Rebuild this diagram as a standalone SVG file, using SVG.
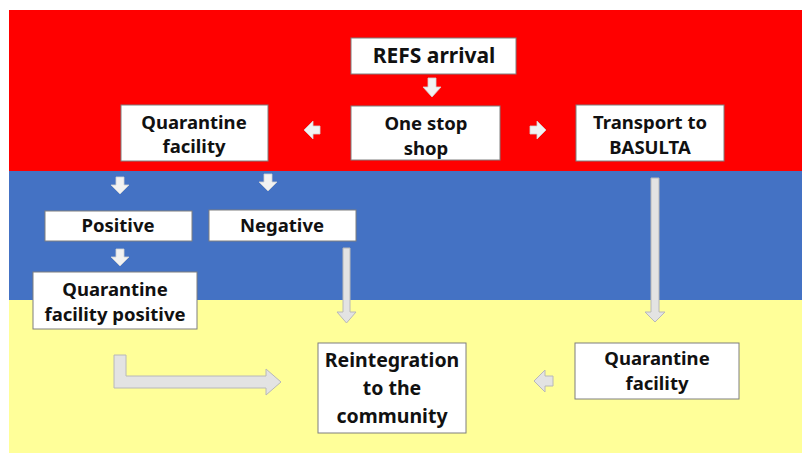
<svg xmlns="http://www.w3.org/2000/svg" width="802" height="455" viewBox="0 0 802 455">
<style>
.box{fill:#ffffff;stroke:#7f7f7f;stroke-width:1}
.t{font-family:"Noto Sans","Open Sans","Liberation Sans",sans-serif;font-weight:bold;font-size:18.5px;fill:#111111;text-anchor:middle}
.big{font-size:21px}
.rb{font-size:19.5px}
.sa{fill:#f2f2f2;stroke:#d0d0d0;stroke-width:0.8}
.la{fill:#e3e3e3;stroke:#b8b8b8;stroke-width:1}
</style>
<rect x="0" y="0" width="802" height="455" fill="#ffffff"/>
<rect x="9" y="10" width="793" height="161" fill="#ff0000"/>
<rect x="9" y="171" width="793" height="129" fill="#4472c4"/>
<rect x="9" y="300" width="793" height="153" fill="#ffff99"/>

<g id="connectors">
<path class="sa" d="M428,78 h8 v9 h5 l-9,10 l-9,-10 h5 z"/>
<path class="sa" d="M320,126 v8 h-7 v5 l-9,-9 l9,-9 v5 z"/>
<path class="sa" d="M530,126 v8 h7 v5 l9,-9 l-9,-9 v5 z"/>
<path class="sa" d="M116,177 h8 v8 h5 l-9,9 l-9,-9 h5 z"/>
<path class="sa" d="M264,174 h8 v8 h5 l-9,9 l-9,-9 h5 z"/>
<path class="sa" d="M116,249 h8 v8 h5 l-9,9 l-9,-9 h5 z"/>
<path class="la" d="M343,248 h7 v64 h6 l-9.5,11 l-9.5,-11 h6 z"/>
<path class="la" d="M651,178 h8 v134 h6 l-10,10 l-10,-10 h6 z"/>
<path class="la" d="M553,376 v10 h-8 v6 l-11,-11 l11,-11 v6 z"/>
<path class="la" d="M114,355 h12 v21 h140 v-7 l15,13 l-15,13 v-7 h-152 z"/>
</g>

<g id="refs-arrival">
<rect class="box" x="351" y="38" width="165" height="36"/>
<text class="t big" x="434" y="63">REFS arrival</text>
</g>
<g id="one-stop-shop">
<rect class="box" x="351" y="106" width="149" height="54"/>
<text class="t" x="426" y="130">One stop</text>
<text class="t" x="426" y="155">shop</text>
</g>
<g id="quarantine-facility-top">
<rect class="box" x="121" y="105" width="147" height="56"/>
<text class="t" x="194" y="129">Quarantine</text>
<text class="t" x="194" y="153">facility</text>
</g>
<g id="transport-basulta">
<rect class="box" x="576" y="105" width="148" height="56"/>
<text class="t" x="650" y="129">Transport to</text>
<text class="t" x="650" y="154">BASULTA</text>
</g>
<g id="positive">
<rect class="box" x="45" y="211" width="147" height="30"/>
<text class="t" x="118" y="232">Positive</text>
</g>
<g id="negative">
<rect class="box" x="209" y="210" width="147" height="31"/>
<text class="t" x="282" y="232">Negative</text>
</g>
<g id="quarantine-facility-positive">
<rect class="box" x="33" y="272" width="164" height="57"/>
<text class="t" x="115" y="296">Quarantine</text>
<text class="t" x="115" y="321">facility positive</text>
</g>
<g id="reintegration">
<rect class="box" x="318" y="343" width="148" height="90"/>
<text class="t rb" x="392" y="367">Reintegration</text>
<text class="t rb" x="392" y="395">to the</text>
<text class="t rb" x="392" y="423">community</text>
</g>
<g id="quarantine-facility-bottom">
<rect class="box" x="575" y="343" width="164" height="56"/>
<text class="t" x="657" y="365">Quarantine</text>
<text class="t" x="657" y="390">facility</text>
</g>
</svg>
